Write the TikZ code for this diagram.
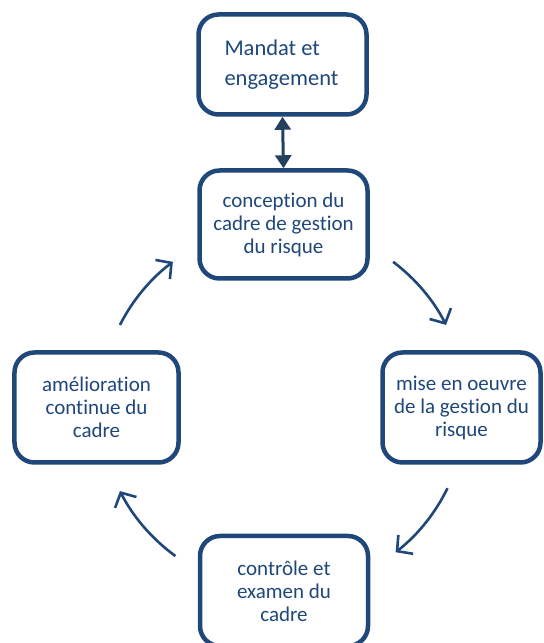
\documentclass[tikz,border=0pt]{standalone}
\usepackage{fontspec}
\setmainfont{Carlito}[RawFeature={-liga}]
\usetikzlibrary{arrows.meta}
\definecolor{frame}{RGB}{31,71,122}
\definecolor{link}{RGB}{36,63,96}
\tikzset{
  stage/.style={draw=frame, line width=4.5bp, rounded corners=20bp,
    text=frame, align=center, inner sep=0pt,
    font=\fontsize{21bp}{23bp}\selectfont},
  cycle/.style={draw=frame, line width=2.6bp,
    -{Straight Barb[length=11bp,width=24bp,line width=2.6bp]}},
  twoway/.style={draw=link, line width=3bp,
    {Triangle[length=13bp,width=16bp]}-{Triangle[length=13bp,width=16bp]}}
}
\begin{document}
\begin{tikzpicture}[x=1bp,y=1bp]
\path[use as bounding box, clip] (0,0) rectangle (544,643);
% stages (y measured upward from the bottom edge)
\node[stage, minimum width=168bp, minimum height=100bp, align=left,
      font=\fontsize{22.5bp}{30bp}\selectfont] (mandat) at (282.5,578.5)
  {\makebox[116bp][l]{Mandat et}\\\makebox[116bp][l]{engagement}};
\node[stage, minimum width=168bp, minimum height=108bp] (conception) at (283.5,418.5)
  {conception du\\cadre de gestion\\du risque};
\node[stage, minimum width=164bp, minimum height=110bp] (amelioration) at (96.5,235.5)
  {amélioration\\continue du\\cadre};
\node[stage, minimum width=158bp, minimum height=110bp] (miseenoeuvre) at (461.5,235.5)
  {mise en oeuvre\\de la gestion du\\risque};
\node[stage, minimum width=168bp, minimum height=110bp] (controle) at (284,52)
  {contrôle et\\examen du\\cadre};
% link between mandate and design
\draw[twoway] (mandat.south) -- (conception.north);
% improvement cycle around the centre
\coordinate (hub) at (283,235);
\draw[cycle] ([shift={(53:183bp)}]hub) arc[start angle=53, end angle=27, radius=183bp];
\draw[cycle] ([shift={(-26:183bp)}]hub) arc[start angle=-26, end angle=-52, radius=183bp];
\draw[cycle] ([shift={(234:183bp)}]hub) arc[start angle=234, end angle=207, radius=183bp];
\draw[cycle] ([shift={(153:183bp)}]hub) arc[start angle=153, end angle=127, radius=183bp];
\end{tikzpicture}
\end{document}
